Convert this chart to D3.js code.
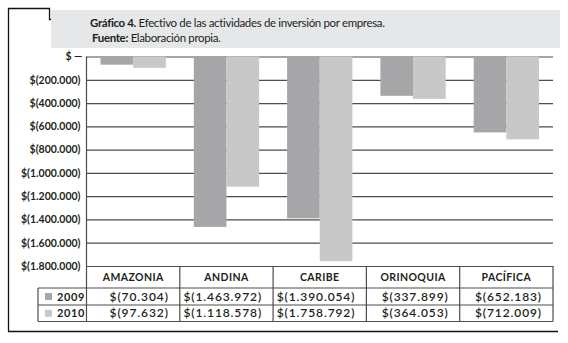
<!doctype html>
<html>
  <head>
    <meta charset="utf-8">
    <script src="https://d3js.org/d3.v7.min.js"></script>
    <style>
      body { margin: 0; background: #fff; }
      text { font-family: Lato, "Liberation Sans", sans-serif; fill: #231f20; }
    </style>
  </head>
  <body>
    <div id="graphic"></div>
    <script>

// Data
  var categories = ["AMAZONIA", "ANDINA", "CARIBE", "ORINOQUIA", "PACÍFICA"];
  var years = ["2009", "2010"];
  var values2009 = [-70304, -1463972, -1390054, -337899, -652183];
  var values2010 = [-97632, -1118578, -1758792, -364053, -712009];
  var yTicks = [0, -200000, -400000, -600000, -800000, -1000000, -1200000, -1400000, -1600000, -1800000];
  var colors = ["#a6a6a8", "#c8c8c9"];

  var series = [values2009, values2010];

  var locale = d3.formatLocale({decimal: ",", thousands: ".", grouping: [3], currency: ["$", ""]});
  var fmt = locale.format(",d");
  function money(v) {
    if (v === 0) return "$ \u2014";
    return "$(" + fmt(Math.abs(v)) + ")";
  }

// Layout
  var W = 568, H = 343;
  var plot = {left: 86.5, right: 553, top: 56.5, bottom: 266};
  var rowH = [266, 288, 305, 321.5];
  var legendLeft = 38;

  var svg = d3.select("#graphic").append("svg")
    .attr("width", W)
    .attr("height", H);

  var xScale = d3.scaleBand()
    .domain(categories)
    .range([plot.left, plot.right])
    .paddingInner(0.3)
    .paddingOuter(0.15);

  var xSub = d3.scaleBand()
    .domain(years)
    .range([0, xScale.bandwidth()]);

  var yScale = d3.scaleLinear()
    .domain([0, -1800000])
    .range([plot.top, plot.bottom]);

// Frame and title box
  svg.append("path")
    .attr("d", "M8.5,331.5 L8.5,8.5 L49.5,8.5 L49.5,19.5 L52,19.5")
    .attr("fill", "none")
    .attr("stroke", "#111")
    .attr("stroke-width", 1.3);

  svg.append("line")
    .attr("x1", 8).attr("x2", 558)
    .attr("y1", 331.5).attr("y2", 331.5)
    .attr("stroke", "#111")
    .attr("stroke-width", 1.5);

  svg.append("rect")
    .attr("x", 51).attr("y", 10)
    .attr("width", 509).attr("height", 38)
    .attr("fill", "#e6e7e8");

  var t1 = svg.append("text").attr("x", 90).attr("y", 27)
    .style("font-size", "11.5px").style("letter-spacing", "-0.35px");
  t1.append("tspan").style("font-weight", "bold").text("Gráfico 4.");
  t1.append("tspan").text(" Efectivo de las actividades de inversión por empresa.");

  var t2 = svg.append("text").attr("x", 92).attr("y", 42)
    .style("font-size", "11.5px").style("letter-spacing", "-0.35px");
  t2.append("tspan").style("font-weight", "bold").text("Fuente:");
  t2.append("tspan").text(" Elaboración propia.");

// Gridlines (y axis)
  var yAxis = d3.axisLeft(yScale)
    .tickValues(yTicks)
    .tickSize(-(plot.right - plot.left))
    .tickPadding(6)
    .tickFormat(money);

  var gy = svg.append("g")
    .attr("transform", "translate(" + plot.left + ",0)")
    .call(yAxis);
  gy.select(".domain").remove();
  gy.selectAll(".tick line")
    .attr("stroke", "#4d4d4f")
    .attr("stroke-width", 1.2);
  gy.selectAll(".tick text")
    .style("font-family", "Lato, 'Liberation Sans', sans-serif")
    .style("font-size", "10.5px")
    .style("font-weight", "bold")
    .attr("fill", "#231f20");
  gy.selectAll(".tick").filter(d => d === 0).select("text")
    .attr("x", -4);

// Bars
  svg.append("g")
    .selectAll("g")
    .data(series)
    .enter()
    .append("g")
    .attr("fill", (d, i) => colors[i])
    .selectAll("rect")
    .data((d, i) => d.map((v, j) => ({cat: categories[j], year: years[i], value: v})))
    .enter()
    .append("rect")
    .attr("x", d => xScale(d.cat) + xSub(d.year))
    .attr("width", xSub.bandwidth())
    .attr("y", yScale(0))
    .attr("height", d => yScale(d.value) - yScale(0));

// Table
  var lineColor = "#4d4d4f";
  var step = xScale.step();
  var colEdges = categories.map(c => xScale(c) - xScale.paddingInner() * step / 2);
  colEdges.push(plot.right);

  var table = svg.append("g")
    .attr("stroke", lineColor)
    .attr("stroke-width", 1.2);

  // left edge of plot + table
  table.append("line")
    .attr("x1", plot.left).attr("x2", plot.left)
    .attr("y1", plot.top).attr("y2", rowH[3]);

  // column separators
  table.selectAll(".col")
    .data(colEdges.slice(1))
    .enter()
    .append("line")
    .attr("x1", d => d).attr("x2", d => d)
    .attr("y1", rowH[0]).attr("y2", rowH[3]);

  // row lines
  table.selectAll(".row")
    .data(rowH.slice(1))
    .enter()
    .append("line")
    .attr("x1", legendLeft).attr("x2", plot.right)
    .attr("y1", d => d).attr("y2", d => d);

  table.append("line")
    .attr("x1", legendLeft).attr("x2", legendLeft)
    .attr("y1", rowH[1]).attr("y2", rowH[3]);

  // header labels
  svg.append("g")
    .selectAll("text")
    .data(categories)
    .enter()
    .append("text")
    .attr("x", d => xScale(d) + xScale.bandwidth() / 2)
    .attr("y", 281)
    .attr("text-anchor", "middle")
    .style("font-size", "10.5px")
    .style("font-weight", "bold")
    .style("letter-spacing", "0.4px")
    .text(d => d);

  // legend keys and values
  series.forEach(function (vals, i) {
    var y0 = rowH[i + 1], y1 = rowH[i + 2];
    var mid = (y0 + y1) / 2;

    svg.append("rect")
      .attr("x", 45).attr("y", mid - 3.5)
      .attr("width", 7).attr("height", 7)
      .attr("fill", colors[i]);

    svg.append("text")
      .attr("x", 57).attr("y", mid + 4)
      .style("font-size", "11px")
      .style("font-weight", "bold")
      .style("letter-spacing", "0.6px")
      .text(years[i]);

    svg.append("g")
      .selectAll("text")
      .data(vals)
      .enter()
      .append("text")
      .attr("x", (d, j) => colEdges[j + 1] - 11)
      .attr("y", mid + 4)
      .attr("text-anchor", "end")
      .style("font-size", "12px")
      .style("font-weight", "600")
      .style("letter-spacing", "0.9px")
      .text(d => money(d));
  });

    </script>
  </body>
</html>
